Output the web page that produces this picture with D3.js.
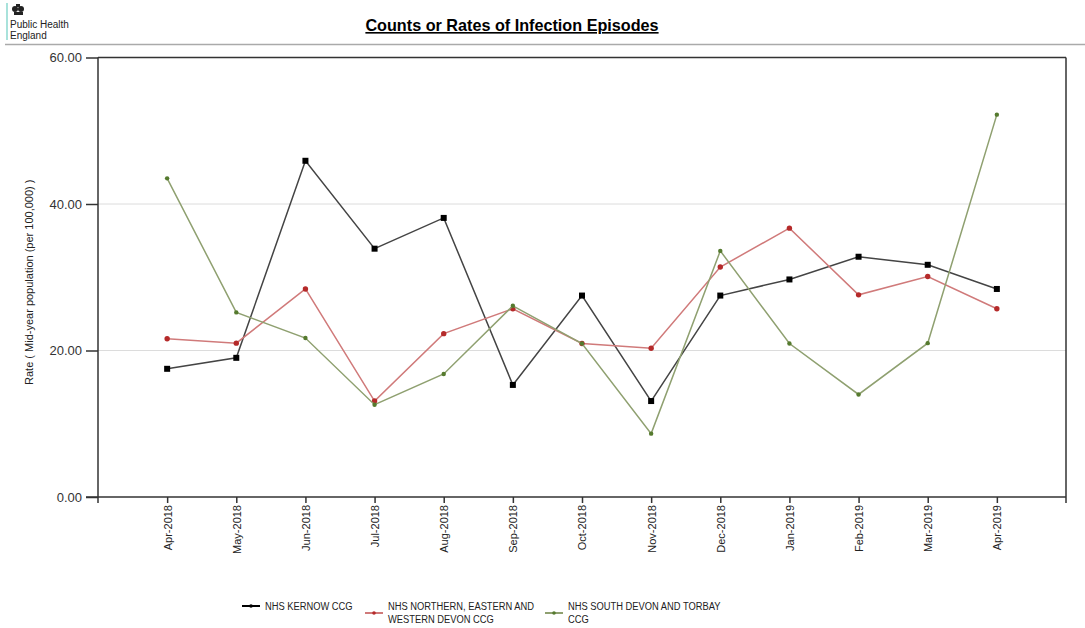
<!DOCTYPE html>
<html>
<head>
<meta charset="utf-8">
<script src="https://cdn.jsdelivr.net/npm/d3@7"></script>
<style>
  html, body { margin: 0; padding: 0; background: #fff; }
  svg { display: block; font-family: "Liberation Sans", Arial, sans-serif; }
</style>
</head>
<body>
<svg id="chart" width="1085" height="628"></svg>
<script>
const months = ["Apr-2018","May-2018","Jun-2018","Jul-2018","Aug-2018","Sep-2018","Oct-2018","Nov-2018","Dec-2018","Jan-2019","Feb-2019","Mar-2019","Apr-2019"];
const kernow = [17.5, 19.0, 45.9, 33.9, 38.1, 15.3, 27.5, 13.1, 27.5, 29.7, 32.8, 31.7, 28.4];
const newDevon = [21.6, 21.0, 28.4, 13.1, 22.3, 25.7, 20.95, 20.3, 31.4, 36.7, 27.6, 30.1, 25.7];
const southDevon = [43.5, 25.2, 21.7, 12.6, 16.8, 26.1, 20.95, 8.65, 33.6, 20.95, 14.0, 21.0, 52.2];
const seriesNames = ["NHS KERNOW CCG", "NHS NORTHERN, EASTERN AND|WESTERN DEVON CCG", "NHS SOUTH DEVON AND TORBAY|CCG"];
const yTicks = [0, 20, 40, 60];
const chartTitle = "Counts or Rates of Infection Episodes";
const yTitle = "Rate ( Mid-year population (per 100,000) )";

const series = [
  {name: seriesNames[0], values: kernow, line: "#444", mark: "#000", shape: "square"},
  {name: seriesNames[1], values: newDevon, line: "#d07a7a", mark: "#b52a2a", shape: "circle"},
  {name: seriesNames[2], values: southDevon, line: "#8fa070", mark: "#557a2e", shape: "diamond"}
];

const svg = d3.select("#chart");
const L = 98, R = 1066, T = 57.5, B = 497;

// Header
svg.append("line").attr("x1", 7).attr("x2", 7).attr("y1", 3).attr("y2", 40)
  .attr("stroke", "#6fcfc3").attr("stroke-width", 1.2);
const crest = svg.append("g").attr("transform", "translate(11,3)").attr("fill", "#222");
crest.append("circle").attr("cx", 4).attr("cy", 6).attr("r", 3);
crest.append("circle").attr("cx", 10).attr("cy", 6).attr("r", 3);
crest.append("rect").attr("x", 5).attr("y", 1).attr("width", 4).attr("height", 3);
crest.append("rect").attr("x", 3).attr("y", 9).attr("width", 9).attr("height", 3);
svg.append("text").attr("x", 10).attr("y", 28).attr("font-size", 10).attr("fill", "#222").text("Public Health");
svg.append("text").attr("x", 10).attr("y", 38.5).attr("font-size", 10).attr("fill", "#222").text("England");
svg.append("line").attr("x1", 5).attr("x2", 1085).attr("y1", 44.5).attr("y2", 44.5)
  .attr("stroke", "#aaa").attr("stroke-width", 1.5);

svg.append("text").attr("x", 512).attr("y", 31).attr("text-anchor", "middle")
  .attr("font-size", 16.2).attr("font-weight", "bold").attr("fill", "#000")
  .attr("text-decoration", "underline").text(chartTitle);

// Scales
const x = d3.scalePoint().domain(months).range([L, R]).padding(1);
const y = d3.scaleLinear().domain([0, 60]).range([B, T]);

// Gridlines
svg.append("g").selectAll("line").data(yTicks.filter(t => t > 0 && t < 60)).join("line")
  .attr("x1", L).attr("x2", R).attr("y1", d => y(d)).attr("y2", d => y(d))
  .attr("stroke", "#dcdcdc").attr("stroke-width", 1);

// Frame top and right
svg.append("line").attr("x1", L).attr("x2", R).attr("y1", T).attr("y2", T).attr("stroke", "#333").attr("stroke-width", 1.5);
svg.append("line").attr("x1", R).attr("x2", R).attr("y1", T).attr("y2", B + 6).attr("stroke", "#333").attr("stroke-width", 1.5);

// Y axis
const yAxis = svg.append("g").attr("transform", `translate(${L},0)`)
  .call(d3.axisLeft(y).tickValues(yTicks).tickFormat(d3.format(".2f")).tickSize(12).tickPadding(4).tickSizeOuter(0));
yAxis.select(".domain").remove();
yAxis.selectAll(".tick line").attr("stroke", "#333").attr("stroke-width", 1.5);
yAxis.selectAll(".tick text").attr("font-size", 13).attr("fill", "#333").attr("font-family", "Liberation Sans, Arial, sans-serif");
svg.append("line").attr("x1", L).attr("x2", L).attr("y1", T).attr("y2", B + 6).attr("stroke", "#333").attr("stroke-width", 1.5);

// X axis
const xAxis = svg.append("g").attr("transform", `translate(0,${B})`)
  .call(d3.axisBottom(x).tickSize(6).tickSizeOuter(0));
xAxis.select(".domain").attr("stroke", "#333").attr("stroke-width", 1.5).attr("d", `M${L - 12},0H${R}`);
xAxis.selectAll(".tick line").attr("stroke", "#333").attr("stroke-width", 1.5);
xAxis.selectAll(".tick text")
  .attr("font-size", 11).attr("fill", "#222").attr("font-family", "Liberation Sans, Arial, sans-serif")
  .attr("text-anchor", "end").attr("transform", "rotate(-90)")
  .attr("x", -8).attr("y", 0).attr("dy", "0.35em");

// Y title
svg.append("text").attr("transform", `translate(33,${(T + B) / 2 + 5}) rotate(-90)`)
  .attr("text-anchor", "middle").attr("font-size", 11).attr("fill", "#222").text(yTitle);

// Lines and markers
const lineGen = d3.line().x((d, i) => x(months[i])).y(d => y(d));
series.forEach(s => {
  svg.append("path").datum(s.values).attr("d", lineGen).attr("fill", "none")
    .attr("stroke", s.line).attr("stroke-width", 1.5);
  const g = svg.append("g");
  s.values.forEach((v, i) => {
    const cx = x(months[i]), cy = y(v);
    if (s.shape === "square") {
      g.append("rect").attr("x", cx - 3).attr("y", cy - 3).attr("width", 6).attr("height", 6).attr("fill", s.mark);
    } else if (s.shape === "circle") {
      g.append("circle").attr("cx", cx).attr("cy", cy).attr("r", 2.7).attr("fill", s.mark);
    } else {
      g.append("circle").attr("cx", cx).attr("cy", cy).attr("r", 2.2).attr("fill", s.mark);
    }
  });
});

// Legend
const legendPos = [{sx: 242, tx: 265, y: 606}, {sx: 365, tx: 388, y: 606}, {sx: 545, tx: 568, y: 606}];
series.forEach((s, i) => {
  const p = legendPos[i];
  const lines = s.name.split("|");
  const symY = lines.length > 1 ? p.y + 7 : p.y;
  svg.append("line").attr("x1", p.sx).attr("x2", p.sx + 18).attr("y1", symY).attr("y2", symY)
    .attr("stroke", i === 0 ? "#000" : s.line).attr("stroke-width", 2);
  svg.append("circle").attr("cx", p.sx + 9).attr("cy", symY).attr("r", 1.8).attr("fill", s.mark);
  lines.forEach((t, j) => {
    svg.append("text").attr("transform", `translate(${p.tx},${p.y + 4 + j * 12.5}) scale(0.85,1)`)
      .attr("font-size", 11).attr("fill", "#222").text(t);
  });
});
</script>
</body>
</html>
